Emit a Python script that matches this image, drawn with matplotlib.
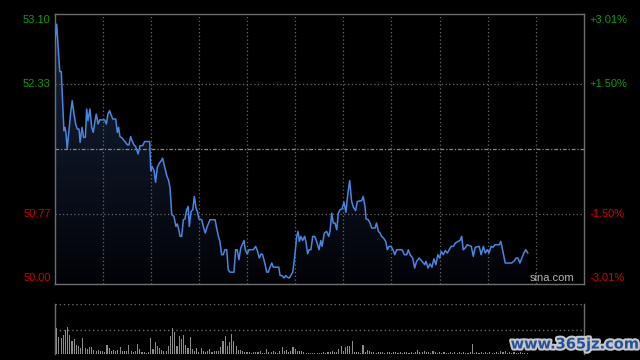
import numpy as np
import matplotlib
matplotlib.use("Agg")
import matplotlib.pyplot as plt
from matplotlib.colors import LinearSegmentedColormap
from matplotlib.patches import Polygon
import matplotlib.patheffects as pe
import matplotlib.transforms as mtransforms

# ---------------- data ----------------
prev_close = 51.55
total_minutes = 242
price_ticks = [53.10, 52.33, 50.77, 50.00]
pct_ticks = ["+3.01%", "+1.50%", "-1.50%", "-3.01%"]
pct_colors = ["#0f9a0f", "#0f9a0f", "#d40000", "#d40000"]

times = [0.0, 1.0, 1.6, 2.4, 3.1, 4.3, 4.8, 5.3, 5.8, 6.6, 7.4, 8.1, 8.9, 9.7, 10.4,
         11.2, 11.7, 12.6, 13.3, 14.1, 14.7, 15.3, 16.2, 17.0, 17.7, 18.4, 19.1, 19.9, 20.7, 21.8,
         22.9, 23.7, 24.4, 25.2, 26.0, 26.7, 28.0, 28.7, 29.3, 29.9, 31.0, 31.8, 32.5, 33.3, 34.0,
         34.8, 35.6, 36.3, 37.1, 38.2, 39.1, 40.3, 41.2, 42.4, 43.5, 44.0, 44.6, 45.5, 46.2, 47.0,
         47.9, 48.8, 49.4, 50.4, 51.3, 52.2, 52.8, 53.6,
         54.6, 55.5, 56.1, 56.8, 57.4, 58.1, 58.9, 59.6, 60.4, 61.1, 61.6, 62.4, 63.2, 63.9, 64.7,
         65.3, 66.0, 67.3, 68.0, 68.9, 69.8, 71.1, 72.3, 73.4, 74.1, 74.9, 75.6, 76.4, 77.1, 77.9,
         78.7, 79.4, 80.2, 82.0, 82.8, 83.5, 84.3, 85.1, 85.8, 86.6, 87.2, 88.1, 88.9, 90.9, 91.9,
         92.7, 93.6, 94.4, 95.1, 96.1, 97.0, 97.7, 98.5, 99.3, 100.0, 102.5, 103.1, 104.0, 104.9, 105.7,
         106.4, 107.3,
         108.9, 109.8, 110.7, 111.3, 111.9, 112.6, 113.4, 114.3, 114.9, 115.7, 116.4, 117.2, 118.0, 118.9, 119.8,
         120.9, 121.7, 122.3, 123.3, 124.4, 125.3, 125.9, 126.7, 127.4, 128.2, 129.0, 129.7, 130.5, 131.4, 132.3,
         133.2, 134.1, 134.9, 135.8, 136.6, 137.6, 138.4, 140.4, 141.1, 141.9, 142.4, 143.4, 144.2, 145.0, 146.5,
         147.2, 148.0, 148.8, 149.5, 150.4, 151.4, 152.1, 152.9, 153.8, 154.7, 155.5, 156.4, 158.9, 159.9, 161.0,
         161.7,
         162.5, 163.7, 164.6, 165.5, 166.7, 168.0, 169.2, 169.8, 170.7, 171.6, 172.5, 173.4, 174.3, 175.2, 176.0,
         176.8, 177.7, 178.6, 179.5, 180.4, 181.3, 182.3, 183.2, 184.4, 185.3, 186.1, 186.8, 187.7, 188.6, 190.5,
         191.4, 192.3, 194.1, 195.0, 196.0, 196.9, 197.8, 198.6, 199.5, 200.4, 201.3, 203.3, 204.0, 205.1, 206.0,
         208.8, 210.0, 210.9, 211.8, 212.7, 213.6, 214.5, 215.4, 216.3]

prices = [52.79, 53.05, 52.81, 52.48, 52.48, 51.77, 51.81, 51.73, 51.55, 51.77, 51.99, 52.13, 51.97, 51.85, 51.79,
          51.79, 51.63, 51.81, 51.69, 51.69, 52.03, 51.89, 52.03, 51.81, 51.75, 51.87, 51.97, 51.85, 51.90, 51.90,
          51.90, 51.85, 51.97, 52.01, 51.95, 51.91, 51.91, 51.75, 51.81, 51.70, 51.68, 51.65, 51.63, 51.60, 51.60,
          51.70, 51.64, 51.60, 51.58, 51.49, 51.59, 51.59, 51.64, 51.64, 51.64, 51.29, 51.34, 51.29, 51.15, 51.33,
          51.38, 51.41, 51.44, 51.33, 51.23, 51.17, 51.08, 50.76,
          50.74, 50.62, 50.65, 50.58, 50.50, 50.50, 50.70, 50.71, 50.82, 50.86, 50.62, 50.80, 50.82, 50.98, 50.84,
          50.80, 50.71, 50.70, 50.62, 50.54, 50.62, 50.70, 50.70, 50.70, 50.60, 50.50, 50.44, 50.28, 50.28, 50.34,
          50.34, 50.10, 50.07, 50.07, 50.34, 50.34, 50.22, 50.36, 50.40, 50.45, 50.34, 50.29, 50.34, 50.34, 50.38,
          50.33, 50.24, 50.29, 50.28, 50.18, 50.07, 50.07, 50.13, 50.18, 50.13, 50.13, 50.03, 50.03, 50.00, 50.03,
          50.01, 50.00,
          50.07, 50.26, 50.50, 50.56, 50.44, 50.50, 50.45, 50.50, 50.44, 50.29, 50.34, 50.34, 50.50, 50.50, 50.44,
          50.34, 50.45, 50.38, 50.54, 50.56, 50.50, 50.56, 50.78, 50.66, 50.66, 50.58, 50.78, 50.82, 50.83, 50.91,
          50.79, 51.02, 51.17, 50.92, 50.85, 50.81, 50.92, 50.93, 50.98, 50.86, 50.71, 50.70, 50.66, 50.60, 50.60,
          50.66, 50.56, 50.54, 50.50, 50.48, 50.44, 50.34, 50.38, 50.38, 50.34, 50.28, 50.34, 50.34, 50.28, 50.28,
          50.34,
          50.28, 50.24, 50.12, 50.20, 50.24, 50.20, 50.16, 50.20, 50.12, 50.17, 50.13, 50.23, 50.16, 50.28, 50.24,
          50.32, 50.28, 50.33, 50.30, 50.34, 50.38, 50.38, 50.42, 50.44, 50.45, 50.50, 50.34, 50.36, 50.40, 50.38,
          50.26, 50.37, 50.38, 50.28, 50.38, 50.30, 50.34, 50.30, 50.38, 50.37, 50.40, 50.40, 50.44, 50.30, 50.18,
          50.18, 50.20, 50.24, 50.24, 50.18, 50.24, 50.30, 50.34, 50.30]

# volume per minute (relative units)
volumes = [50, 26, 17, 16, 19, 24, 27, 19, 13, 15, 9, 8, 6, 16, 6, 5, 7, 7, 4, 3,
           4, 3, 3, 2, 9, 6, 3, 4, 3, 4, 7, 3, 3, 3, 9, 3, 2, 3, 10, 5,
           2, 2, 1, 2, 16, 5, 12, 8, 6, 4, 3, 3, 8, 18, 26, 22, 8, 18, 15, 19,
           9, 6, 17, 5, 3, 6, 2, 6, 3, 2, 3, 5, 2, 3, 3, 3, 7, 13, 18, 8,
           12, 20, 13, 8, 4, 4, 3, 2, 2, 2, 1, 2, 2, 2, 3, 1, 1, 5, 2, 2,
           3, 2, 1, 3, 7, 3, 4, 2, 3, 7, 5, 3, 3, 3, 2, 1, 1, 1, 1, 1,
           1, 1,
           1, 2, 1, 2, 2, 3, 2, 2, 5, 8, 3, 7, 8, 8, 13, 2, 2, 2, 1, 9,
           2, 4, 3, 2, 2, 1, 2, 2, 2, 1, 2, 2, 1, 2, 2, 1, 2, 1, 2, 2,
           1, 2, 1, 2, 4, 2, 2, 3, 2, 2, 1, 3, 2, 1, 2, 1, 2, 1, 1, 2,
           1, 2, 1, 2, 1, 2, 1, 1, 2, 10, 1, 2, 1, 2, 1, 2, 1, 2, 1, 1,
           2, 1, 3, 2, 3, 1, 2, 1, 2, 1, 1, 2, 1, 1, 1]

# ---------------- figure ----------------
BG = "#000000"
GRID = "#6a6a6a"
SPINE = "#6e6e6e"
LINE = "#4a86e0"

fig = plt.figure(figsize=(6.4, 3.6), dpi=100, facecolor=BG)
plt.rcParams['font.family'] = ['Liberation Sans', 'DejaVu Sans']

ax = fig.add_axes([54.5 / 640, 1 - 284 / 360, (584 - 54.5) / 640, 270 / 360])
ax.set_facecolor(BG)

pmax, pmin = price_ticks[0], price_ticks[-1]
ppx = (278 - 20) / (pmax - pmin)
ymax = pmax + 6 / ppx
ymin = pmin - 6 / ppx
ax.set_xlim(0, total_minutes)
ax.set_ylim(ymin, ymax)

# gradient fill under the line
cmap = LinearSegmentedColormap.from_list("g", ["#020307", "#17253f"])
grad = np.linspace(0, 1, 256).reshape(-1, 1)
im = ax.imshow(grad, extent=[0, total_minutes, ymin, ymax], aspect="auto",
               cmap=cmap, origin="lower", zorder=1)
verts = [(times[0], ymin)] + list(zip(times, prices)) + [(times[-1], ymin)]
poly = Polygon(verts, closed=True, facecolor="none", edgecolor="none")
ax.add_patch(poly)
im.set_clip_path(poly)

# grid
for k in range(1, 11):
    ax.axvline(k * total_minutes / 11, color=GRID, lw=0.9, ls=(0, (1, 2)), zorder=2)
for p in [price_ticks[1], price_ticks[2]]:
    ax.axhline(p, color=GRID, lw=0.9, ls=(0, (1, 2)), zorder=2)
ax.axhline(prev_close, color="#8a8a8a", lw=0.9, ls=(0, (3, 1.5, 1, 1.5)), zorder=2)

ax.plot(times, prices, color=LINE, lw=1.1, zorder=3)

for s in ax.spines.values():
    s.set_color(SPINE)
    s.set_linewidth(1.0)
ax.set_xticks([])
ax.set_yticks([])

trans = mtransforms.blended_transform_factory(ax.transAxes, ax.transData)
for i, p in enumerate(price_ticks):
    ax.text(-0.007, p, f"{p:.2f}", transform=trans, ha="right", va="center",
            color=pct_colors[i], fontsize=8)
    ax.text(1.011, p, pct_ticks[i], transform=trans, ha="left", va="center",
            color=pct_colors[i], fontsize=8)

ax.text(0.9405, 0.024, "sina.com", transform=ax.transAxes, ha="center", va="center",
        color="#b4b4b4", fontsize=8)

# ---------------- volume panel ----------------
axv = fig.add_axes([54.5 / 640, 1 - 354 / 360, (584 - 54.5) / 640, 50 / 360])
axv.set_facecolor(BG)
axv.set_xlim(0, total_minutes)
vmax = max(volumes)
axv.set_ylim(0, vmax)
axv.bar(np.arange(len(volumes)), volumes, width=0.5, color="#8c8c8c", align="center", zorder=3)
axv.axhline(vmax, color=GRID, lw=1.0, ls=(0, (1, 2)), zorder=2)
axv.axhline(vmax * 24 / 50, color=GRID, lw=1.0, ls=(0, (1, 2)), zorder=2)
for side in ["top", "bottom"]:
    axv.spines[side].set_visible(False)
for side in ["left", "right"]:
    axv.spines[side].set_color(SPINE)
    axv.spines[side].set_linewidth(1.0)
axv.set_xticks([])
axv.set_yticks([])

# watermark
fig.text(575 / 640, 1 - 344 / 360, "www.365jz.com", ha="center", va="center",
         color="#24509c", fontsize=10.5, fontweight="bold", family="DejaVu Sans",
         path_effects=[pe.withStroke(linewidth=3, foreground="#c8c8c8")])

fig.savefig("out.png", dpi=100, facecolor=BG)
